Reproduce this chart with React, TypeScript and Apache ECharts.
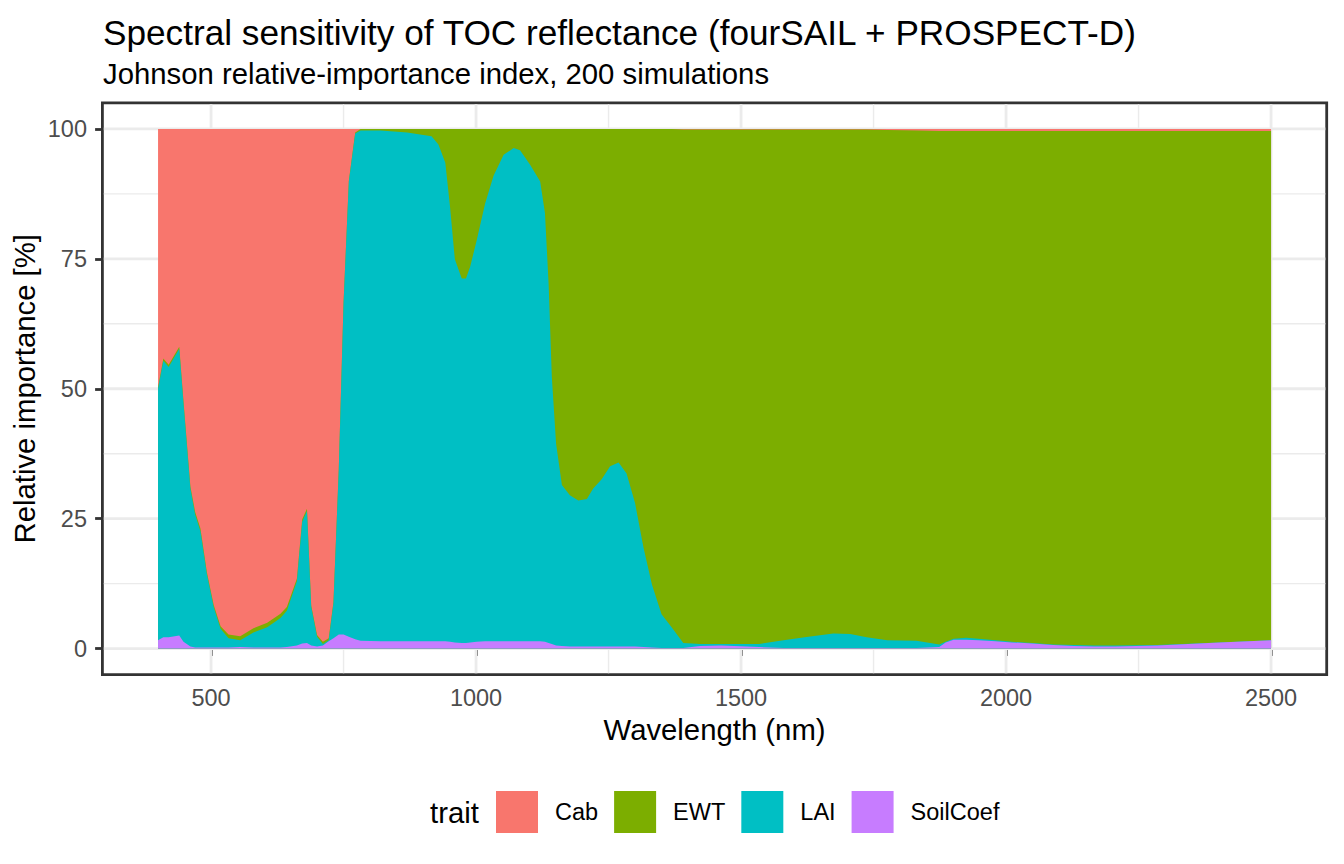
import React, { useEffect, useRef } from "react";
import * as echarts from "echarts";

// Wavelength grid (nm)
const wavelength = [
  400, 410, 420, 440, 448, 461, 470, 480, 492, 505,
  518, 533, 555, 580, 606, 631, 643, 662, 672, 681,
  689, 700, 711, 722, 731, 741, 750, 760, 772, 782,
  820, 870, 916, 929, 942, 951, 960, 973, 981, 989,
  1001, 1017, 1033, 1052, 1071, 1083, 1102, 1121, 1130, 1137,
  1143, 1151, 1162, 1177, 1193, 1209, 1221, 1237, 1253, 1269,
  1284, 1300, 1316, 1332, 1350, 1369, 1391, 1423, 1463, 1534,
  1580, 1620, 1674, 1706, 1737, 1776, 1831, 1874, 1886, 1901,
  1925, 1948, 1980, 2011, 2050, 2089, 2128, 2167, 2206, 2285,
  2402, 2500,
];

// Relative importance [%] per trait
const soilCoef = [
  1.6, 2.2, 2.2, 2.5, 1.3, 0.4, 0.2, 0.2, 0.2, 0.2,
  0.2, 0.2, 0.3, 0.2, 0.2, 0.2, 0.3, 0.6, 1.0, 1.1,
  0.6, 0.4, 0.6, 1.4, 2.0, 2.7, 2.7, 2.3, 1.8, 1.5,
  1.4, 1.4, 1.4, 1.4, 1.4, 1.3, 1.2, 1.1, 1.1, 1.2,
  1.3, 1.4, 1.4, 1.4, 1.4, 1.4, 1.4, 1.4, 1.3, 1.1,
  0.9, 0.6, 0.5, 0.4, 0.4, 0.4, 0.4, 0.4, 0.4, 0.4,
  0.4, 0.4, 0.3, 0.2, 0.1, 0.1, 0.1, 0.5, 0.6, 0.3,
  0.1, 0.1, 0.1, 0.1, 0.1, 0.1, 0.1, 0.3, 1.2, 1.7,
  1.7, 1.6, 1.4, 1.2, 1.0, 0.7, 0.5, 0.4, 0.4, 0.6,
  1.2, 1.6,
];

const lai = [
  48.4, 53.2, 52.0, 55.2, 45.9, 30.4, 25.6, 22.4, 14.2, 7.8,
  3.6, 1.8, 1.3, 2.9, 3.9, 5.7, 7.0, 12.4, 23.4, 25.4,
  7.4, 1.9, 0.3, 0.2, 6.8, 31.7, 63.7, 87.6, 97.3, 98.2,
  98.3, 97.9, 97.2, 95.6, 92.1, 83.6, 73.7, 70.1, 70.1, 72.3,
  77.2, 84.2, 89.6, 93.6, 94.9, 94.5, 91.7, 88.5, 82.5, 68.9,
  51.3, 38.8, 31.0, 29.1, 28.1, 28.4, 30.4, 32.2, 34.7, 35.4,
  33.3, 27.6, 19.1, 12.1, 6.5, 4.0, 1.0, 0.4, 0.3, 0.6,
  1.5, 2.1, 2.8, 2.7, 2.1, 1.5, 1.4, 0.5, 0.1, 0.2,
  0.4, 0.3, 0.2, 0.1, 0.1, 0.1, 0.2, 0.2, 0.2, 0.1,
  0.0, 0.0,
];

const ewt = [
  0.3, 0.4, 0.4, 0.4, 0.4, 0.4, 0.5, 0.5, 0.4, 0.4,
  0.5, 0.7, 0.8, 0.8, 0.9, 0.8, 0.7, 0.5, 0.5, 0.4,
  0.3, 0.3, 0.4, 0.4, 0.2, 0.1, 0.1, 0.1, 0.2, 0.3,
  0.3, 0.7, 1.4, 3.0, 6.5, 15.1, 25.1, 28.8, 28.8, 26.5,
  21.5, 14.4, 9.0, 5.0, 3.7, 4.1, 6.9, 10.1, 16.2, 30.0,
  47.8, 60.6, 68.5, 70.5, 71.5, 71.2, 69.2, 67.4, 64.9, 64.2,
  66.3, 72.0, 80.6, 87.7, 93.4, 95.9, 98.8, 99.0, 99.0, 99.0,
  98.3, 97.7, 97.0, 97.1, 97.7, 98.2, 98.2, 98.8, 98.3, 97.7,
  97.5, 97.7, 98.0, 98.3, 98.5, 98.8, 98.9, 99.0, 99.0, 98.9,
  98.4, 98.0,
];

const cab = [
  49.7, 44.2, 45.4, 41.9, 52.4, 68.8, 73.7, 76.9, 85.2, 91.6,
  95.7, 97.3, 97.6, 96.1, 95.0, 93.3, 92.0, 86.5, 75.1, 73.1,
  91.7, 97.4, 98.7, 98.0, 91.0, 65.5, 33.5, 10.0, 0.7, 0.0,
  0, 0, 0, 0, 0, 0, 0, 0, 0, 0,
  0, 0, 0, 0, 0, 0, 0, 0, 0, 0,
  0, 0, 0, 0, 0, 0, 0, 0, 0, 0,
  0, 0, 0, 0, 0, 0, 0.1, 0.1, 0.1, 0.1,
  0.1, 0.1, 0.1, 0.1, 0.1, 0.2, 0.3, 0.4, 0.4, 0.4,
  0.4, 0.4, 0.4, 0.4, 0.4, 0.4, 0.4, 0.4, 0.4, 0.4,
  0.4, 0.4,
];

const traits = ["Cab", "EWT", "LAI", "SoilCoef"];
const traitColors = ["#F8766D", "#7CAE00", "#00BFC4", "#C77CFF"];

const xBreaks = [500, 1000, 1500, 2000, 2500];
const xMinorBreaks = [750, 1250, 1750, 2250];
const yBreaks = [0, 25, 50, 75, 100];
const yMinorBreaks = [12.5, 37.5, 62.5, 87.5];

const FONT = "'Liberation Sans', Arial, Helvetica, sans-serif";

export default function App() {
  const ref = useRef<HTMLDivElement>(null);

  useEffect(() => {
    if (!ref.current) return;
    const chart = echarts.init(ref.current, null, { renderer: "svg" });

    // stacked tops (bottom-up: SoilCoef, LAI, EWT, Cab)
    const topSoil = soilCoef.map((v) => v);
    const topLai = topSoil.map((v, i) => v + lai[i]);
    const topEwt = topLai.map((v, i) => v + ewt[i]);
    const topCab = topEwt.map((v, i) => v + cab[i]);
    const tops = [topCab, topEwt, topLai, topSoil];

    const gridData = [
      ...xBreaks.map((v) => [0, v, 1]),
      ...xMinorBreaks.map((v) => [0, v, 0]),
      ...yBreaks.map((v) => [1, v, 1]),
      ...yMinorBreaks.map((v) => [1, v, 0]),
    ];

    const areaSeries = traits.map((name, k) => ({
      name,
      type: "line",
      data: wavelength.map((w, i) => [w, tops[k][i]]),
      symbol: "none",
      showSymbol: false,
      color: traitColors[k],
      itemStyle: { color: traitColors[k] },
      lineStyle: { width: 0, opacity: 0 },
      areaStyle: { color: traitColors[k], opacity: 1 },
      silent: true,
      z: 2,
      emphasis: { disabled: true },
    }));

    const option: any = {
      animation: false,
      backgroundColor: "#FFFFFF",
      textStyle: { fontFamily: FONT },
      grid: {
        left: 102.4,
        top: 102.9,
        width: 1224.3,
        height: 571.7,
        show: true,
        backgroundColor: "#FFFFFF",
        borderColor: "#333333",
        borderWidth: 2.8,
        containLabel: false,
        outerBoundsMode: "none",
      },
      xAxis: {
        type: "value",
        min: 295,
        max: 2605,
        name: "Wavelength (nm)",
        nameLocation: "middle",
        nameGap: 40,
        nameTextStyle: { fontSize: 29.3, color: "#000000", fontFamily: FONT },
        axisLine: { show: false },
        axisTick: {
          show: true,
          length: 7.3,
          customValues: xBreaks,
          lineStyle: { color: "#333333", width: 2.8 },
        },
        axisLabel: {
          customValues: xBreaks,
          formatter: (v: number) => String(v),
          color: "#4D4D4D",
          fontSize: 23.5,
          margin: 11.5,
          fontFamily: FONT,
        },
        splitLine: { show: false },
        minorSplitLine: { show: false },
      },
      yAxis: {
        type: "value",
        min: -5,
        max: 105,
        name: "Relative importance [%]",
        nameLocation: "middle",
        nameGap: 63,
        nameRotate: 90,
        nameMoveOverlap: false,
        nameTextStyle: { fontSize: 29.3, color: "#000000", fontFamily: FONT },
        axisLine: { show: false },
        axisTick: {
          show: true,
          length: 7.3,
          customValues: yBreaks,
          lineStyle: { color: "#333333", width: 2.8 },
        },
        axisLabel: {
          customValues: yBreaks,
          formatter: (v: number) => String(v),
          color: "#4D4D4D",
          fontSize: 23.5,
          margin: 15.4,
          fontFamily: FONT,
        },
        splitLine: { show: false },
        minorSplitLine: { show: false },
      },
      legend: {
        show: true,
        data: traits,
        orient: "horizontal",
        left: 496,
        top: 791,
        padding: 0,
        icon: "rect",
        itemWidth: 42,
        itemHeight: 42,
        itemGap: 16,
        selectedMode: false,
        textStyle: {
          fontSize: 23.5,
          color: "#000000",
          fontFamily: FONT,
          padding: [0, 0, 0, 12],
        },
      },
      graphic: [
        {
          type: "text",
          x: 103,
          y: 32,
          silent: true,
          style: {
            text: "Spectral sensitivity of TOC reflectance (fourSAIL + PROSPECT-D)",
            fontSize: 35.2,
            fontFamily: FONT,
            fill: "#000000",
            align: "left",
            verticalAlign: "middle",
          },
        },
        {
          type: "text",
          x: 103,
          y: 73,
          silent: true,
          style: {
            text: "Johnson relative-importance index, 200 simulations",
            fontSize: 29.3,
            fontFamily: FONT,
            fill: "#000000",
            align: "left",
            verticalAlign: "middle",
          },
        },
        {
          type: "text",
          x: 430,
          y: 812,
          silent: true,
          style: {
            text: "trait",
            fontSize: 29.3,
            fontFamily: FONT,
            fill: "#000000",
            align: "left",
            verticalAlign: "middle",
          },
        },
      ],
      series: [
        {
          name: "gridlines",
          type: "custom",
          data: gridData,
          silent: true,
          z: 1,
          renderItem: (params: any, api: any) => {
            const orient = api.value(0);
            const v = api.value(1);
            const major = api.value(2) === 1;
            const cs = params.coordSys;
            const inset = 1.4;
            const style = { stroke: "#EBEBEB", lineWidth: major ? 2.8 : 1.4 };
            if (orient === 0) {
              const x = api.coord([v, 0])[0];
              return {
                type: "line",
                shape: { x1: x, y1: cs.y + inset, x2: x, y2: cs.y + cs.height - inset },
                style,
              };
            }
            const y = api.coord([400, v])[1];
            return {
              type: "line",
              shape: { x1: cs.x + inset, y1: y, x2: cs.x + cs.width - inset, y2: y },
              style,
            };
          },
        },
        ...areaSeries,
      ],
    };

    chart.setOption(option);
    return () => {
      chart.dispose();
    };
  }, []);

  return (
    <div
      ref={ref}
      style={{ position: "absolute", left: 0, top: 0, width: 1344, height: 864 }}
    />
  );
}
